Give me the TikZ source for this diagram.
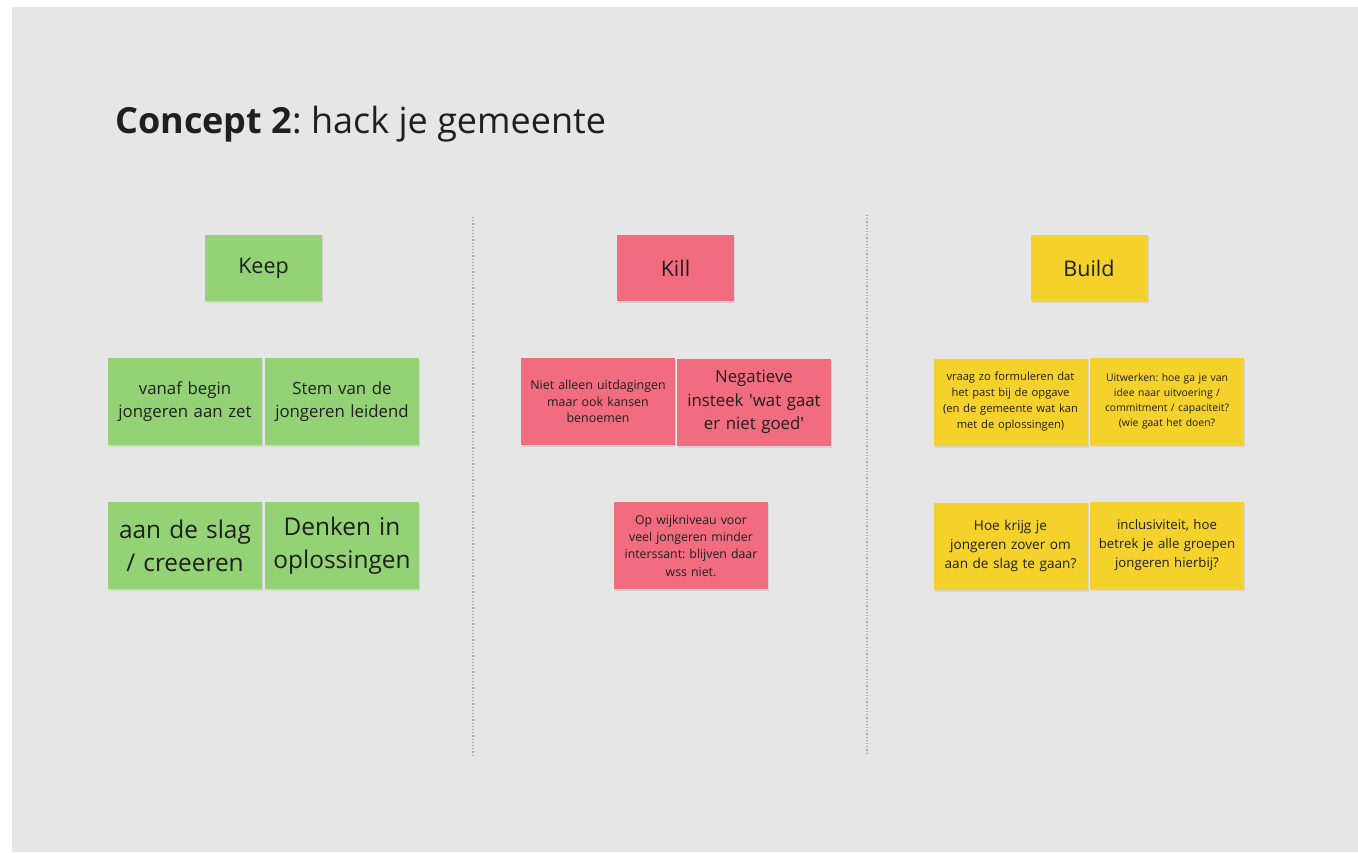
\documentclass[tikz,border=0pt]{standalone}
\usepackage{fontspec}
\setmainfont{Open Sans}
\usetikzlibrary{shadows}
\definecolor{boardgray}{HTML}{E6E6E6}
\definecolor{keepgreen}{HTML}{93D375}
\definecolor{killred}{HTML}{F16C7F}
\definecolor{buildyellow}{HTML}{F5D12B}
\definecolor{inkdark}{HTML}{1F1F1F}
\definecolor{dividergray}{HTML}{A8A8A8}
\frenchspacing

\begin{document}
\begin{tikzpicture}[x=1pt, y=-1pt,
	sticky/.style={rectangle, inner sep=2pt, align=center, text=inkdark,
		minimum width=154pt, minimum height=87pt, text width=148pt,
		drop shadow={opacity=0.18, shadow xshift=1pt, shadow yshift=-2pt}},
	header/.style={sticky, minimum width=117pt, minimum height=66pt, text width=110pt,
		font=\fontsize{21.5}{26}\selectfont},
	keep/.style={fill=keepgreen},
	kill/.style={fill=killred},
	build/.style={fill=buildyellow},
	divider/.style={dividergray, line width=1.2pt, dotted}]
	% Board and margins:
	\fill[white] (0, 0) rectangle (1358, 852);
	\fill[boardgray] (12, 7) rectangle (1358, 852);
	% Title:
	\node[anchor=base west, inner sep=0pt, text=inkdark, font=\fontsize{36}{42}\selectfont]
		(title) at (115, 133) {\textbf{Concept 2}: hack je gemeente};
	% Column dividers:
	\draw[divider] (473, 217) -- (473, 757);
	\draw[divider] (867, 215) -- (867, 755);
	% Headers:
	\node[header, keep] (keephead) at (263.5, 268) {Keep};
	\node[header, kill] (killhead) at (675.5, 268) {Kill};
	\node[header, build] (buildhead) at (1089, 268) {Build};
	% Keep column:
	\node[sticky, keep, font=\fontsize{16.8}{23}\selectfont] (keepa) at (185, 401.5) {vanaf begin\\jongeren aan zet};
	\node[sticky, keep, font=\fontsize{16.8}{23}\selectfont] (keepb) at (342, 401.5) {Stem van de\\jongeren leidend};
	\node[sticky, keep, font=\fontsize{24.4}{33}\selectfont] (keepc) at (185, 545.5) {aan de slag\\/ creeeren};
	\node[sticky, keep, font=\fontsize{24.4}{33}\selectfont] (keepd) at (342, 545.5) {Denken in\\oplossingen};
	% Kill column:
	\node[sticky, kill, font=\fontsize{12.4}{16.5}\selectfont] (killa) at (598, 401.5) {Niet alleen uitdagingen\\maar ook kansen\\benoemen};
	\node[sticky, kill, font=\fontsize{16.8}{23.5}\selectfont] (killb) at (754, 402) {Negatieve\\insteek \textquotesingle wat gaat\\er niet goed\textquotesingle};
	\node[sticky, kill, font=\fontsize{12.3}{17.3}\selectfont] (killc) at (691, 545.5) {Op wijkniveau voor\\veel jongeren minder\\interssant: blijven daar\\wss niet.};
	% Build column:
	\node[sticky, build, font=\fontsize{11.2}{16}\selectfont] (builda) at (1010.5, 402) {vraag zo formuleren dat\\het past bij de opgave\\(en de gemeente wat kan\\met de oplossingen)};
	\node[sticky, build, font=\fontsize{10.4}{15}\selectfont] (buildb) at (1167, 401.5) {Uitwerken: hoe ga je van\\idee naar uitvoering /\\commitment / capaciteit?\\(wie gaat het doen?};
	\node[sticky, build, font=\fontsize{13.6}{19}\selectfont] (buildc) at (1010.5, 546) {Hoe krijg je\\jongeren zover om\\aan de slag te gaan?};
	\node[sticky, build, font=\fontsize{13.2}{19}\selectfont] (buildd) at (1167, 545.5) {inclusiviteit, hoe\\betrek je alle groepen\\jongeren hierbij?};
\end{tikzpicture}
\end{document}
